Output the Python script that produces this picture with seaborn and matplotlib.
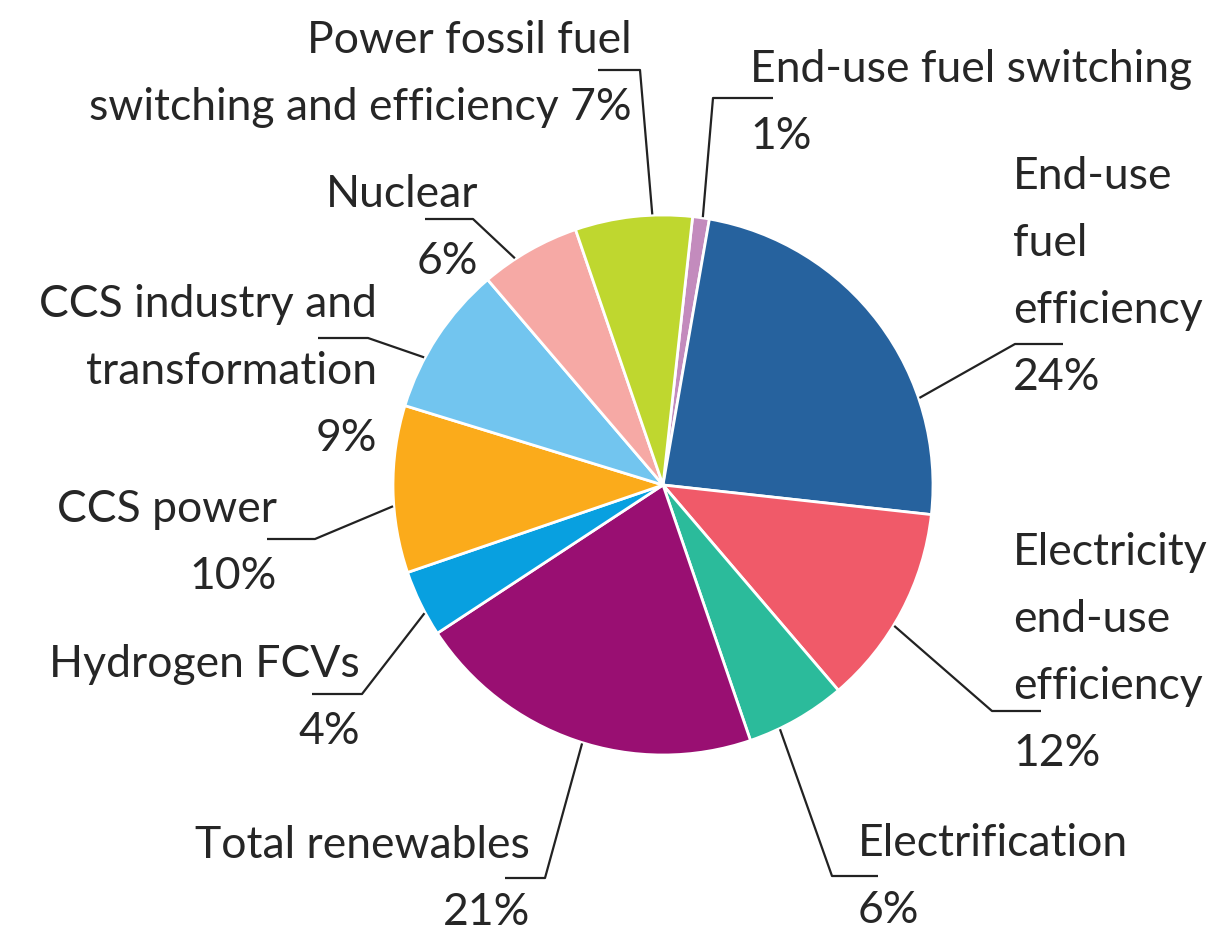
import numpy as np
import pandas as pd
import matplotlib
matplotlib.use("Agg")
import matplotlib.pyplot as plt
import seaborn as sns

# slices, clockwise from the top
labels = ["End-use fuel switching", "End-use fuel efficiency",
          "Electricity end-use efficiency", "Electrification",
          "Total renewables", "Hydrogen FCVs", "CCS power",
          "CCS industry and transformation", "Nuclear",
          "Power fossil fuel switching and efficiency"]
shares = [1, 24, 12, 6, 21, 4, 10, 9, 6, 7]
colors = ["#c38bbd", "#26629e", "#f05a69", "#2bbb9b", "#990f72",
          "#08a0e0", "#fbab1b", "#72c5ef", "#f6a9a5", "#bfd72f"]

# how each label is broken over lines ({} -> share)
label_lines = [
    ["End-use fuel switching", "{}%"],
    ["End-use", "fuel", "efficiency", "{}%"],
    ["Electricity", "end-use", "efficiency", "{}%"],
    ["Electrification", "{}%"],
    ["Total renewables", "{}%"],
    ["Hydrogen FCVs", "{}%"],
    ["CCS power", "{}%"],
    ["CCS industry and", "transformation", "{}%"],
    ["Nuclear", "{}%"],
    ["Power fossil fuel", "switching and efficiency {}%"],
]

df = pd.DataFrame({"label": labels, "share": shares, "color": colors})

W, H = 1213, 932
CX, CY, R = 663, 485, 270   # pie centre / radius in pixels (y from top)
LINE = 67                   # line spacing in px

# label layout: text x, align, first baseline y, where along wedge the leader
# starts (0..1 from theta1), elbow point, end of horizontal tick
layout = [
    (750, "left", 82, 0.40, (713, 98), 773),
    (1013, "left", 189, 0.29, (1015, 344), 1063),
    (1013, "left", 565, 0.42, (992, 711), 1041),
    (858, "left", 856, 0.31, (832, 876), 878),
    (530, "right", 858, 0.52, (545, 878), 505),
    (360, "right", 677, 0.65, (362, 694), 312),
    (277, "right", 522, 0.60, (315, 539), 267),
    (377, "right", 317, 0.66, (368, 338), 318),
    (478, "right", 207, 0.66, (473, 219), 425),
    (632, "right", 53, 0.34, (640, 70), 598),
]

sns.set_theme(style="white")
plt.rcParams["font.family"] = ["Lato", "DejaVu Sans"]

fig = plt.figure(figsize=(W / 100, H / 100), dpi=100)
ax = fig.add_axes([0, 0, 1, 1])

wedges, _ = ax.pie(df["share"], colors=sns.color_palette(df["color"].tolist()),
                   startangle=83.7, counterclock=False,
                   center=(CX, H - CY), radius=R,
                   wedgeprops=dict(edgecolor="white", linewidth=2))

txt_color = "#262626"
for w, lines, share, (tx, ha, y0, frac, elbow, hend) in zip(
        wedges, label_lines, df["share"], layout):
    th = np.deg2rad(w.theta1 + frac * (w.theta2 - w.theta1))
    px = CX + R * 1.003 * np.cos(th)
    py = (H - CY) + R * 1.003 * np.sin(th)
    ax.plot([px, elbow[0], hend], [py, H - elbow[1], H - elbow[1]],
            color="#222222", lw=1.6, solid_capstyle="butt")
    for i, ln in enumerate(lines):
        ax.text(tx, H - (y0 + i * LINE), ln.format(share), ha=ha,
                va="baseline", fontsize=32, color=txt_color)

ax.set_xlim(0, W)
ax.set_ylim(0, H)
ax.set_aspect("equal")
ax.axis("off")

fig.savefig("out.png", dpi=100, facecolor="white")
